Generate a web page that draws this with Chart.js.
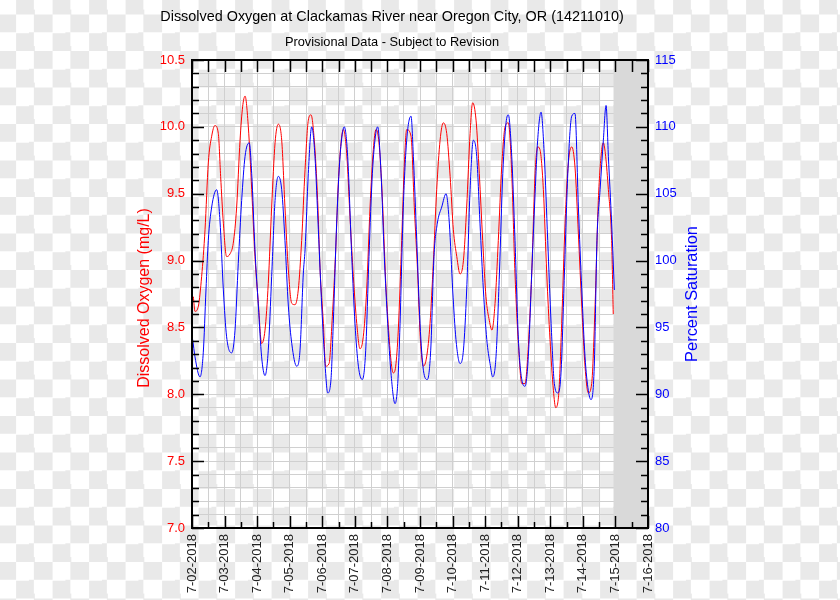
<!DOCTYPE html>
<html>
<head>
<meta charset="utf-8">
<script src="https://cdn.jsdelivr.net/npm/chart.js@4/dist/chart.umd.min.js"></script>
<style>
  html, body {
    margin: 0;
    padding: 0;
    width: 840px;
    height: 600px;
    overflow: hidden;
    background-color: #fff;
    background-image: conic-gradient(#e9e9e9 25%, #fff 0 50%, #e9e9e9 0 75%, #fff 0);
    background-size: 36.5px 36.5px;
    background-position: 16.1px 14.5px;
  }
  canvas { display: block; }
</style>
</head>
<body>
<canvas id="do-chart" width="840" height="600"></canvas>
<script>
// hours since 7-02-2018 00:00
var dayLabels = ["7-02-2018", "7-03-2018", "7-04-2018", "7-05-2018", "7-06-2018",
    "7-07-2018", "7-08-2018", "7-09-2018", "7-10-2018", "7-11-2018",
    "7-12-2018", "7-13-2018", "7-14-2018", "7-15-2018", "7-16-2018"];

var dataEndHour = 310.6;

var doHours = [1.0, 2.2, 4.7, 7.1, 9.6, 12.0, 14.5, 16.9, 19.4, 21.1, 23.1, 25.5, 28.0, 30.4,
    32.9, 35.4, 37.3, 39.1, 41.5, 44.0, 46.4, 48.9, 51.3, 53.8, 56.2, 58.7, 61.2, 63.6, 66.1,
    68.5, 71.0, 73.5, 75.9, 78.3, 80.8, 83.3, 85.7, 87.7, 90.1, 92.6, 94.3, 96.8, 98.5, 101.0,
    103.4, 105.9, 107.8, 109.8, 111.5, 114.0, 116.4, 118.9, 121.4, 123.8, 126.2, 128.7, 131.2,
    133.6, 135.6, 137.8, 140.2, 142.7, 145.2, 147.1, 148.3, 150.1, 152.0, 154.5, 156.5, 158.2,
    161.4, 163.8, 166.3, 168.0, 170.5, 172.9, 175.4, 177.8, 180.3, 182.8, 185.2, 187.7, 190.2,
    192.6, 195.1, 197.5, 200.0, 202.4, 204.9, 206.8, 209.3, 211.7, 214.2, 216.6, 219.1, 221.0,
    223.3, 225.7, 228.2, 230.7, 233.1, 235.6, 238.0, 240.5, 243.0, 245.4, 247.8, 250.3, 252.8,
    254.7, 256.4, 258.9, 261.4, 263.8, 266.3, 268.0, 270.4, 272.4, 274.9, 277.3, 279.8, 282.2,
    284.7, 287.2, 289.6, 292.0, 294.5, 297.0, 299.4, 301.9, 303.1, 304.8, 306.8, 309.2, 310.4];
var doValues = [8.73, 8.62, 8.66, 8.88, 9.23, 9.73, 9.93, 10.01, 9.95, 9.63, 9.28, 9.03, 9.05, 9.13,
    9.40, 9.90, 10.15, 10.23, 10.00, 9.53, 9.03, 8.68, 8.38, 8.48, 8.83, 9.40, 9.88, 10.02, 9.90,
    9.40, 8.93, 8.68, 8.67, 8.78, 9.15, 9.68, 10.05, 10.09, 9.90, 9.45, 8.95, 8.53, 8.21, 8.23,
    8.58, 9.08, 9.58, 9.88, 9.98, 9.80, 9.33, 8.88, 8.53, 8.34, 8.43, 8.78, 9.40,
    9.83, 9.98, 9.88, 9.48, 8.85, 8.43, 8.21, 8.16, 8.21, 8.48, 9.15, 9.73, 9.98,
    9.93, 9.40, 8.90, 8.46, 8.21, 8.28, 8.53, 8.98, 9.53, 9.90, 10.03, 9.95, 9.63,
    9.23, 9.03, 8.90, 9.00, 9.40, 9.95, 10.18, 10.05, 9.65, 9.15, 8.73, 8.55, 8.48,
    8.68, 9.15, 9.70, 10.00, 10.03, 9.65, 8.90, 8.38, 8.08, 8.08, 8.36, 8.90, 9.65,
    9.85, 9.83, 9.53, 8.90, 8.41, 8.03, 7.90, 8.03, 8.53, 9.28, 9.73, 9.85, 9.70,
    9.20, 8.66, 8.21, 8.01, 8.08, 8.66, 9.45, 9.83, 9.88, 9.78, 9.53, 9.15, 8.60];

var satHours = [0.5, 2.2, 5.9, 8.3, 10.3, 12.0, 14.5, 18.2, 20.6, 23.1, 25.5, 29.3, 31.7, 34.1,
    36.6, 39.1, 42.2, 44.0, 46.4, 48.9, 51.3, 53.8, 56.2, 58.7, 61.2, 63.6, 66.1, 68.5, 71.0,
    73.5, 77.1, 79.6, 82.0, 83.3, 85.7, 88.2, 90.6, 93.1, 95.6, 98.0, 100.0, 102.4, 104.1, 106.6,
    109.1, 112.2, 114.7, 117.7, 120.1, 122.6, 125.5, 128.0, 130.4, 132.9, 135.4, 136.8, 139.3,
    141.7, 144.2, 146.6, 149.6, 151.6, 153.3, 155.7, 158.2, 161.4, 163.1, 165.6, 168.0, 170.5,
    173.4, 175.9, 178.3, 180.8, 184.0, 187.2, 189.6, 192.1, 194.5, 197.5, 200.0, 202.4, 204.9,
    207.3, 209.8, 212.2, 214.7, 217.2, 219.6, 221.6, 224.0, 226.5, 229.0, 231.4, 233.1, 235.6,
    238.0, 240.5, 243.0, 245.4, 247.8, 250.3, 252.8, 254.7, 257.2, 259.6, 262.1, 264.6, 267.0,
    269.5, 271.9, 274.4, 276.9, 279.8, 282.2, 284.7, 287.2, 289.6, 292.0, 294.0, 296.4, 298.4,
    300.7, 303.1, 305.1, 306.8, 309.2, 311.2];
var satValues = [94.1, 92.8, 91.3, 93.1, 97.8, 101.5, 104.0, 105.3, 103.0, 97.8, 94.3, 93.1, 94.8, 99.8,
    104.5, 107.8, 108.8, 106.5, 100.8, 96.6, 92.8, 91.4, 93.3, 98.8, 104.5, 106.3, 105.3, 101.5, 96.6,
    93.8, 92.1, 93.3, 99.0, 100.8, 106.5, 110.0, 107.8, 102.3, 96.6, 92.3, 90.1, 91.1, 95.3, 102.8,
    107.8, 110.0, 107.8, 100.3, 95.3, 92.1, 91.1, 93.3, 100.3, 106.5, 109.5, 110.0, 106.5,
    100.3, 95.3, 91.6, 89.3, 90.8, 95.3, 104.0, 109.0, 110.8, 107.8, 101.5, 95.3, 91.8,
    91.1, 93.3, 100.3, 102.8, 104.0, 105.0, 102.8, 97.8, 94.1, 92.3, 93.3, 97.8, 105.3,
    109.0, 107.8, 102.8, 97.8, 94.1, 92.3, 91.3, 92.8, 99.0, 106.5, 110.3, 110.9, 107.8,
    101.5, 94.1, 91.1, 90.6, 92.8, 99.0, 105.0, 109.0, 111.1, 107.8, 101.5, 95.3, 90.8,
    90.1, 91.6, 99.0, 106.5, 110.8, 111.0, 104.0, 97.8, 92.8, 90.3, 89.6, 92.1, 101.5,
    105.3, 109.0, 111.6, 107.8, 102.8, 97.8];

var FONT = "'Liberation Sans', Arial, sans-serif";

function toPoints(xs, ys) {
    return xs.map(function (h, i) { return { x: h, y: ys[i] }; });
}

// gray "no data yet" band, inward tick marks, frame and titles
var decorations = {
    id: "decorations",
    beforeDatasetsDraw: function (chart) {
        var ctx = chart.ctx, a = chart.chartArea;
        var x0 = chart.scales.x.getPixelForValue(dataEndHour);
        ctx.save();
        ctx.fillStyle = "#d9d9d9";
        ctx.fillRect(x0, a.top, a.right - x0, a.bottom - a.top);
        ctx.restore();
    },
    afterDraw: function (chart) {
        var ctx = chart.ctx, a = chart.chartArea;
        var sx = chart.scales.x, sy = chart.scales.y, sy2 = chart.scales.y2;
        ctx.save();
        ctx.strokeStyle = "#000";
        ctx.lineWidth = 1.5;
        ctx.beginPath();
        sx.ticks.forEach(function (t) {
            var px = Math.round(sx.getPixelForValue(t.value)) + 0.5;
            var len = t.value % 24 === 0 ? 12 : 6;
            ctx.moveTo(px, a.bottom);
            ctx.lineTo(px, a.bottom - len);
            ctx.moveTo(px, a.top);
            ctx.lineTo(px, a.top + 12);
        });
        sy.ticks.forEach(function (t) {
            var py = Math.round(sy.getPixelForValue(t.value)) + 0.5;
            var len = Math.round(t.value * 10) % 5 === 0 ? 12 : 7;
            ctx.moveTo(a.left, py);
            ctx.lineTo(a.left + len, py);
        });
        sy2.ticks.forEach(function (t) {
            var py = Math.round(sy2.getPixelForValue(t.value)) + 0.5;
            var len = Math.round(t.value) % 5 === 0 ? 12 : 7;
            ctx.moveTo(a.right, py);
            ctx.lineTo(a.right - len, py);
        });
        ctx.stroke();

        ctx.lineWidth = 2;
        ctx.strokeRect(a.left, a.top, a.right - a.left, a.bottom - a.top);

        ctx.fillStyle = "#000";
        ctx.textAlign = "center";
        ctx.textBaseline = "alphabetic";
        ctx.font = "14.4px " + FONT;
        ctx.fillText("Dissolved Oxygen at Clackamas River near Oregon City, OR (14211010)", 392, 21);
        ctx.font = "12.8px " + FONT;
        ctx.fillText("Provisional Data - Subject to Revision", 392, 46);

        ctx.textBaseline = "middle";
        ctx.save();
        ctx.font = "16px " + FONT;
        ctx.translate(145, 298);
        ctx.rotate(-Math.PI / 2);
        ctx.fillStyle = "#ff0000";
        ctx.fillText("Dissolved Oxygen (mg/L)", 0, 0);
        ctx.restore();
        ctx.save();
        ctx.font = "16.4px " + FONT;
        ctx.translate(692, 294);
        ctx.rotate(-Math.PI / 2);
        ctx.fillStyle = "#0000ff";
        ctx.fillText("Percent Saturation", 0, 0);
        ctx.restore();
        ctx.restore();
    }
};

var ctx = document.getElementById("do-chart").getContext("2d");
var chart = new Chart(ctx, {
    type: "line",
    data: {
        datasets: [
            {
                label: "Percent Saturation",
                data: toPoints(satHours, satValues),
                yAxisID: "y2",
                borderColor: "#0000ff",
                borderWidth: 1,
                pointRadius: 0,
                cubicInterpolationMode: "monotone",
            },
            {
                label: "Dissolved Oxygen (mg/L)",
                data: toPoints(doHours, doValues),
                yAxisID: "y",
                borderColor: "#ff0000",
                borderWidth: 1,
                pointRadius: 0,
                cubicInterpolationMode: "monotone",
            },
        ],
    },
    options: {
        responsive: false,
        animation: false,
        layout: { padding: { top: 60, left: 0, right: 0, bottom: 0 } },
        plugins: {
            legend: { display: false },
            tooltip: { enabled: false },
        },
        scales: {
            x: {
                type: "linear",
                min: 0,
                max: 336,
                afterFit: function (s) { s.height = 72; },
                border: { display: false },
                grid: { color: "#d0d0d0", lineWidth: 1, drawTicks: false },
                ticks: {
                    stepSize: 12,
                    autoSkip: false,
                    minRotation: 90,
                    maxRotation: 90,
                    padding: 6,
                    color: "#222",
                    font: { family: FONT, size: 13 },
                    callback: function (v) {
                        return v % 24 === 0 ? dayLabels[v / 24] : "";
                    },
                },
            },
            y: {
                position: "left",
                min: 7,
                max: 10.5,
                afterFit: function (s) { s.width = 192; },
                border: { display: false },
                grid: { color: "#d0d0d0", lineWidth: 1, drawTicks: false },
                ticks: {
                    stepSize: 0.1,
                    autoSkip: false,
                    padding: 7,
                    color: "#ff0000",
                    font: { family: FONT, size: 13 },
                    callback: function (v) {
                        var k = Math.round(v * 10);
                        return k % 5 === 0 ? (k / 10).toFixed(1) : "";
                    },
                },
            },
            y2: {
                position: "right",
                min: 80,
                max: 115,
                afterFit: function (s) { s.width = 192; },
                border: { display: false },
                grid: { display: false, drawTicks: false },
                ticks: {
                    stepSize: 1,
                    autoSkip: false,
                    padding: 7,
                    color: "#0000ff",
                    font: { family: FONT, size: 13 },
                    callback: function (v) {
                        return Math.round(v) % 5 === 0 ? String(Math.round(v)) : "";
                    },
                },
            },
        },
    },
    plugins: [decorations],
});
</script>
</body>
</html>
